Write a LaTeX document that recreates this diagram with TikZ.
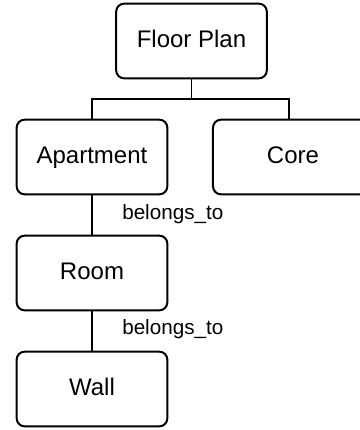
\documentclass[tikz,border=0pt]{standalone}
\usepackage{fontspec}
\setmainfont{Liberation Sans}
\tikzset{
  entity/.style={draw=black, line width=1.5pt, rounded corners=6pt, fill=white,
    minimum width=113pt, minimum height=56pt, text height=13pt, text depth=3.5pt,
    font=\fontsize{18}{21}\selectfont},
  link/.style={draw=black, line width=1pt},
  relname/.style={anchor=west, inner sep=0pt, font=\fontsize{15.5}{18}\selectfont}
}
\begin{document}
\begin{tikzpicture}[x=0.75pt, y=-0.75pt]
            \useasboundingbox (0,0) rectangle (360,430);
            \node[entity] (floorplan) at (191.5,41) {Floor Plan};
            \node[entity] (apartment) at (92,157) {Apartment};
            \node[entity, minimum width=120pt] (core) at (293,157) {Core};
            \node[entity] (room) at (92,273) {Room};
            \node[entity] (wall) at (92,389) {Wall};
            \coordinate (bus) at (191.5,99);
            \draw[link] (floorplan.south) -- (bus) -| (apartment.north);
            \draw[link] (bus) -| ([xshift=-3pt]core.north);
            \draw[link] (apartment.south) -- (room.north);
            \draw[link] (room.south) -- (wall.north);
            \node[relname] (aptroom) at (122,214) {belongs\_to};
            \node[relname] (roomwall) at (122,329) {belongs\_to};
        \end{tikzpicture}
\end{document}
